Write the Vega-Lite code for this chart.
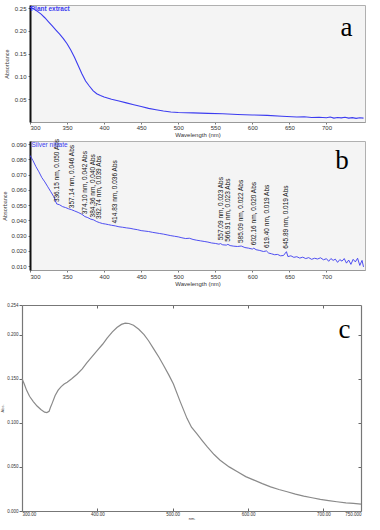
{
  "$schema": "https://vega.github.io/schema/vega-lite/v6.json",
  "background": "white",
  "padding": {"left": 0, "top": 4, "right": 0, "bottom": 0},
  "config": {
    "view": {"stroke": null},
    "font": "Liberation Sans",
    "axis": {"grid": false, "labelFont": "Liberation Sans", "titleFont": "Liberation Sans", "titleFontWeight": "normal", "labelOverlap": false, "labelBound": false, "labelSeparation": 0}
  },
  "datasets": {
    "plant": [
      {"nm": 300, "abs": 0.252}, {"nm": 305, "abs": 0.248}, {"nm": 310, "abs": 0.243}, {"nm": 315, "abs": 0.237},
      {"nm": 320, "abs": 0.229}, {"nm": 325, "abs": 0.220}, {"nm": 330, "abs": 0.211}, {"nm": 335, "abs": 0.202},
      {"nm": 340, "abs": 0.193}, {"nm": 345, "abs": 0.183}, {"nm": 350, "abs": 0.172}, {"nm": 355, "abs": 0.158},
      {"nm": 360, "abs": 0.142}, {"nm": 365, "abs": 0.124}, {"nm": 370, "abs": 0.106}, {"nm": 375, "abs": 0.090},
      {"nm": 380, "abs": 0.079}, {"nm": 385, "abs": 0.069}, {"nm": 390, "abs": 0.062}, {"nm": 395, "abs": 0.058},
      {"nm": 400, "abs": 0.055}, {"nm": 410, "abs": 0.050}, {"nm": 420, "abs": 0.046}, {"nm": 430, "abs": 0.042},
      {"nm": 440, "abs": 0.038}, {"nm": 450, "abs": 0.034}, {"nm": 460, "abs": 0.030}, {"nm": 470, "abs": 0.027},
      {"nm": 480, "abs": 0.024}, {"nm": 490, "abs": 0.022}, {"nm": 500, "abs": 0.021}, {"nm": 520, "abs": 0.020},
      {"nm": 540, "abs": 0.019}, {"nm": 560, "abs": 0.018}, {"nm": 580, "abs": 0.0165}, {"nm": 600, "abs": 0.0155},
      {"nm": 620, "abs": 0.0145}, {"nm": 640, "abs": 0.0125}, {"nm": 660, "abs": 0.0110}, {"nm": 670, "abs": 0.0115},
      {"nm": 680, "abs": 0.0100}, {"nm": 690, "abs": 0.0105}, {"nm": 700, "abs": 0.0095}, {"nm": 705, "abs": 0.0110},
      {"nm": 710, "abs": 0.0085}, {"nm": 715, "abs": 0.0100}, {"nm": 720, "abs": 0.0090}, {"nm": 725, "abs": 0.0105},
      {"nm": 730, "abs": 0.0085}, {"nm": 735, "abs": 0.0095}, {"nm": 740, "abs": 0.0080}, {"nm": 745, "abs": 0.0092},
      {"nm": 750, "abs": 0.0085}
    ],
    "silver": [
      {"nm": 300, "abs": 0.0826}, {"nm": 304, "abs": 0.0792}, {"nm": 308, "abs": 0.0752}, {"nm": 312, "abs": 0.0718},
      {"nm": 316, "abs": 0.0680}, {"nm": 320, "abs": 0.0652}, {"nm": 324, "abs": 0.0620}, {"nm": 328, "abs": 0.0588},
      {"nm": 332, "abs": 0.0556}, {"nm": 336, "abs": 0.0508}, {"nm": 340, "abs": 0.0502}, {"nm": 344, "abs": 0.0490},
      {"nm": 348, "abs": 0.0484}, {"nm": 352, "abs": 0.0476}, {"nm": 356, "abs": 0.0470}, {"nm": 360, "abs": 0.0462},
      {"nm": 365, "abs": 0.0452}, {"nm": 370, "abs": 0.0440}, {"nm": 374, "abs": 0.0425}, {"nm": 378, "abs": 0.0418},
      {"nm": 382, "abs": 0.0408}, {"nm": 386, "abs": 0.0403}, {"nm": 390, "abs": 0.0392}, {"nm": 394, "abs": 0.0385},
      {"nm": 398, "abs": 0.0379}, {"nm": 402, "abs": 0.0376}, {"nm": 406, "abs": 0.0372}, {"nm": 410, "abs": 0.0368},
      {"nm": 415, "abs": 0.0364}, {"nm": 420, "abs": 0.0358}, {"nm": 425, "abs": 0.0355}, {"nm": 430, "abs": 0.0351},
      {"nm": 435, "abs": 0.0348}, {"nm": 440, "abs": 0.0343}, {"nm": 445, "abs": 0.0339}, {"nm": 450, "abs": 0.0333},
      {"nm": 455, "abs": 0.0330}, {"nm": 460, "abs": 0.0327}, {"nm": 465, "abs": 0.0322}, {"nm": 470, "abs": 0.0318},
      {"nm": 475, "abs": 0.0314}, {"nm": 480, "abs": 0.0310}, {"nm": 485, "abs": 0.0305}, {"nm": 490, "abs": 0.0300},
      {"nm": 495, "abs": 0.0296}, {"nm": 500, "abs": 0.0292}, {"nm": 505, "abs": 0.0286}, {"nm": 510, "abs": 0.0281},
      {"nm": 515, "abs": 0.0283}, {"nm": 520, "abs": 0.0275}, {"nm": 525, "abs": 0.0270}, {"nm": 530, "abs": 0.0266},
      {"nm": 535, "abs": 0.0262}, {"nm": 540, "abs": 0.0258}, {"nm": 545, "abs": 0.0252}, {"nm": 550, "abs": 0.0249},
      {"nm": 555, "abs": 0.0244}, {"nm": 557, "abs": 0.0248}, {"nm": 560, "abs": 0.0240}, {"nm": 565, "abs": 0.0238},
      {"nm": 567, "abs": 0.0243}, {"nm": 570, "abs": 0.0235}, {"nm": 575, "abs": 0.0231}, {"nm": 580, "abs": 0.0229},
      {"nm": 585, "abs": 0.0232}, {"nm": 590, "abs": 0.0222}, {"nm": 595, "abs": 0.0218}, {"nm": 600, "abs": 0.0212},
      {"nm": 602, "abs": 0.0218}, {"nm": 605, "abs": 0.0208}, {"nm": 610, "abs": 0.0203}, {"nm": 615, "abs": 0.0196},
      {"nm": 619, "abs": 0.0200}, {"nm": 622, "abs": 0.0186}, {"nm": 626, "abs": 0.0181}, {"nm": 630, "abs": 0.0175},
      {"nm": 634, "abs": 0.0177}, {"nm": 638, "abs": 0.0168}, {"nm": 642, "abs": 0.0170}, {"nm": 646, "abs": 0.0195},
      {"nm": 648, "abs": 0.0163}, {"nm": 652, "abs": 0.0168}, {"nm": 656, "abs": 0.0158}, {"nm": 660, "abs": 0.0162},
      {"nm": 664, "abs": 0.0153}, {"nm": 668, "abs": 0.0159}, {"nm": 672, "abs": 0.0150}, {"nm": 676, "abs": 0.0156},
      {"nm": 680, "abs": 0.0145}, {"nm": 684, "abs": 0.0152}, {"nm": 688, "abs": 0.0147}, {"nm": 692, "abs": 0.0155},
      {"nm": 696, "abs": 0.0142}, {"nm": 700, "abs": 0.0149}, {"nm": 703, "abs": 0.0132}, {"nm": 706, "abs": 0.0150},
      {"nm": 709, "abs": 0.0138}, {"nm": 712, "abs": 0.0146}, {"nm": 715, "abs": 0.0125}, {"nm": 718, "abs": 0.0143},
      {"nm": 721, "abs": 0.0133}, {"nm": 724, "abs": 0.0150}, {"nm": 727, "abs": 0.0120}, {"nm": 730, "abs": 0.0140},
      {"nm": 733, "abs": 0.0112}, {"nm": 736, "abs": 0.0145}, {"nm": 739, "abs": 0.0128}, {"nm": 742, "abs": 0.0152},
      {"nm": 745, "abs": 0.0105}, {"nm": 748, "abs": 0.0138}, {"nm": 750, "abs": 0.0095}
    ],
    "peaks": [
      {"nm": 336.15, "abs": 0.050, "label": "336.15 nm, 0.050 Abs"},
      {"nm": 357.14, "abs": 0.046, "label": "357.14 nm, 0.046 Abs"},
      {"nm": 374.10, "abs": 0.042, "label": "374.10 nm, 0.042 Abs"},
      {"nm": 384.36, "abs": 0.040, "label": "384.36 nm, 0.040 Abs"},
      {"nm": 392.74, "abs": 0.039, "label": "392.74 nm, 0.039 Abs"},
      {"nm": 414.83, "abs": 0.036, "label": "414.83 nm, 0.036 Abs"},
      {"nm": 557.09, "abs": 0.025, "label": "557.09 nm, 0.023 Abs"},
      {"nm": 566.91, "abs": 0.024, "label": "566.91 nm, 0.023 Abs"},
      {"nm": 585.09, "abs": 0.0232, "label": "585.09 nm, 0.022 Abs"},
      {"nm": 602.16, "abs": 0.0218, "label": "602.16 nm, 0.020 Abs"},
      {"nm": 619.40, "abs": 0.020, "label": "619.40 nm, 0.019 Abs"},
      {"nm": 645.89, "abs": 0.0195, "label": "645.89 nm, 0.019 Abs"}
    ],
    "agnp": [
      {"nm": 300, "abs": 0.150}, {"nm": 303, "abs": 0.144}, {"nm": 306, "abs": 0.137}, {"nm": 310, "abs": 0.130},
      {"nm": 315, "abs": 0.124}, {"nm": 320, "abs": 0.119}, {"nm": 325, "abs": 0.115}, {"nm": 330, "abs": 0.112},
      {"nm": 333, "abs": 0.1115}, {"nm": 336, "abs": 0.113}, {"nm": 338, "abs": 0.118}, {"nm": 340, "abs": 0.122},
      {"nm": 344, "abs": 0.131}, {"nm": 348, "abs": 0.137}, {"nm": 352, "abs": 0.141}, {"nm": 356, "abs": 0.144},
      {"nm": 360, "abs": 0.146}, {"nm": 366, "abs": 0.150}, {"nm": 373, "abs": 0.155}, {"nm": 380, "abs": 0.161},
      {"nm": 386, "abs": 0.168}, {"nm": 393, "abs": 0.175}, {"nm": 400, "abs": 0.182}, {"nm": 407, "abs": 0.189},
      {"nm": 413, "abs": 0.196}, {"nm": 420, "abs": 0.203}, {"nm": 426, "abs": 0.208}, {"nm": 432, "abs": 0.2115},
      {"nm": 437, "abs": 0.213}, {"nm": 442, "abs": 0.2125}, {"nm": 448, "abs": 0.2105}, {"nm": 455, "abs": 0.206},
      {"nm": 462, "abs": 0.200}, {"nm": 468, "abs": 0.193}, {"nm": 475, "abs": 0.1835}, {"nm": 482, "abs": 0.174},
      {"nm": 488, "abs": 0.165}, {"nm": 495, "abs": 0.154}, {"nm": 501, "abs": 0.144}, {"nm": 510, "abs": 0.124},
      {"nm": 519, "abs": 0.105}, {"nm": 525, "abs": 0.095}, {"nm": 532, "abs": 0.0877}, {"nm": 540, "abs": 0.079},
      {"nm": 546, "abs": 0.0726}, {"nm": 555, "abs": 0.064}, {"nm": 563, "abs": 0.0576}, {"nm": 575, "abs": 0.050},
      {"nm": 586, "abs": 0.0444}, {"nm": 597, "abs": 0.039}, {"nm": 608, "abs": 0.035}, {"nm": 619, "abs": 0.031},
      {"nm": 630, "abs": 0.0274}, {"nm": 641, "abs": 0.0244}, {"nm": 652, "abs": 0.0218}, {"nm": 663, "abs": 0.0192},
      {"nm": 674, "abs": 0.0169}, {"nm": 685, "abs": 0.015}, {"nm": 696, "abs": 0.0132}, {"nm": 707, "abs": 0.0118},
      {"nm": 718, "abs": 0.0105}, {"nm": 730, "abs": 0.0093}, {"nm": 740, "abs": 0.0086}, {"nm": 750, "abs": 0.0078}
    ]
  },
  "vconcat": [
    {
      "spacing": 0,
      "vconcat": [
        {
          "width": 335,
          "height": 117,
          "view": {"fill": "#f4f4f4", "stroke": "#b0b0b0"},
          "layer": [
            {
              "data": {"name": "plant"},
              "mark": {"type": "line", "color": "#3c3cf0", "strokeWidth": 1.1},
              "encoding": {
                "x": {"field": "nm", "type": "quantitative", "scale": {"domain": [300, 752], "nice": false},
                  "axis": {"values": [300, 350, 400, 450, 500, 550, 600, 650, 700], "labelExpr": "format(datum.value, 'd')", "labelOverlap": false, "labelFontSize": 6, "labelColor": "#333", "tickSize": 2, "tickColor": "#777", "domainColor": "#999", "title": "Wavelength (nm)", "titleFontSize": 6, "titleColor": "#333", "labelPadding": 0, "titlePadding": 1}},
                "y": {"field": "abs", "type": "quantitative", "scale": {"domain": [0, 0.257], "nice": false},
                  "axis": {"values": [0.05, 0.1, 0.15, 0.2, 0.25], "labelExpr": "format(datum.value, '.2f')", "labelOverlap": false, "labelFontSize": 6, "labelColor": "#333", "tickSize": 2, "tickColor": "#777", "domainColor": "#111", "domainWidth": 2, "title": "Absorbance", "titleFontSize": 5.5, "titleColor": "#444", "titlePadding": 5, "labelPadding": 2}}
              }
            },
            {
              "data": {"values": [{}]},
              "mark": {"type": "text", "align": "left", "baseline": "top", "dy": 1, "fontSize": 6.5, "fontWeight": "bold", "color": "#3c3cf0"},
              "encoding": {
                "x": {"datum": 301, "type": "quantitative",
                  "axis": {"values": [300, 350, 400, 450, 500, 550, 600, 650, 700], "labelExpr": "format(datum.value, 'd')", "labelOverlap": false, "labelFontSize": 6, "labelColor": "#333", "tickSize": 2, "tickColor": "#777", "domainColor": "#999", "title": "Wavelength (nm)", "titleFontSize": 6, "titleColor": "#333", "labelPadding": 0, "titlePadding": 1}},
                "y": {"datum": 0.257, "type": "quantitative",
                  "axis": {"values": [0.05, 0.1, 0.15, 0.2, 0.25], "labelExpr": "format(datum.value, '.2f')", "labelOverlap": false, "labelFontSize": 6, "labelColor": "#333", "tickSize": 2, "tickColor": "#777", "domainColor": "#111", "domainWidth": 2, "title": "Absorbance", "titleFontSize": 5.5, "titleColor": "#444", "titlePadding": 5, "labelPadding": 2}},
                "text": {"value": "Plant extract"}
              }
            },
            {
              "data": {"values": [{}]},
              "mark": {"type": "text", "align": "center", "baseline": "alphabetic", "fontSize": 27, "font": "Liberation Serif", "color": "#000"},
              "encoding": {
                "x": {"datum": 727, "type": "quantitative",
                  "axis": {"values": [300, 350, 400, 450, 500, 550, 600, 650, 700], "labelExpr": "format(datum.value, 'd')", "labelOverlap": false, "labelFontSize": 6, "labelColor": "#333", "tickSize": 2, "tickColor": "#777", "domainColor": "#999", "title": "Wavelength (nm)", "titleFontSize": 6, "titleColor": "#333", "labelPadding": 0, "titlePadding": 1}},
                "y": {"datum": 0.189, "type": "quantitative",
                  "axis": {"values": [0.05, 0.1, 0.15, 0.2, 0.25], "labelExpr": "format(datum.value, '.2f')", "labelOverlap": false, "labelFontSize": 6, "labelColor": "#333", "tickSize": 2, "tickColor": "#777", "domainColor": "#111", "domainWidth": 2, "title": "Absorbance", "titleFontSize": 5.5, "titleColor": "#444", "titlePadding": 5, "labelPadding": 2}},
                "text": {"value": "a"}
              }
            }
          ]
        },
        {
          "width": 335,
          "height": 129,
          "view": {"fill": "#f4f4f4", "stroke": "#b0b0b0"},
          "layer": [
            {
              "data": {"name": "silver"},
              "mark": {"type": "line", "color": "#3c3cf0", "strokeWidth": 0.9},
              "encoding": {
                "x": {"field": "nm", "type": "quantitative", "scale": {"domain": [300, 752], "nice": false},
                  "axis": {"values": [300, 350, 400, 450, 500, 550, 600, 650, 700], "labelExpr": "format(datum.value, 'd')", "labelOverlap": false, "labelFontSize": 6, "labelColor": "#333", "tickSize": 2, "tickColor": "#777", "domainColor": "#999", "title": "Wavelength (nm)", "titleFontSize": 6, "titleColor": "#333", "labelPadding": 1, "titlePadding": 1}},
                "y": {"field": "abs", "type": "quantitative", "scale": {"domain": [0.0075, 0.092], "nice": false},
                  "axis": {"values": [0.01, 0.02, 0.03, 0.04, 0.05, 0.06, 0.07, 0.08, 0.09], "labelExpr": "format(datum.value, '.3f')", "labelOverlap": false, "labelFontSize": 6, "labelColor": "#333", "tickSize": 2, "tickColor": "#777", "domainColor": "#111", "domainWidth": 2, "title": "Absorbance", "titleFontSize": 5.5, "titleColor": "#444", "titlePadding": 3, "labelPadding": 2}}
              }
            },
            {
              "data": {"name": "peaks"},
              "mark": {"type": "text", "angle": 270, "align": "left", "baseline": "middle", "dx": 3, "fontSize": 6.5, "color": "#111"},
              "encoding": {
                "x": {"field": "nm", "type": "quantitative",
                  "axis": {"values": [300, 350, 400, 450, 500, 550, 600, 650, 700], "labelExpr": "format(datum.value, 'd')", "labelOverlap": false, "labelFontSize": 6, "labelColor": "#333", "tickSize": 2, "tickColor": "#777", "domainColor": "#999", "title": "Wavelength (nm)", "titleFontSize": 6, "titleColor": "#333", "labelPadding": 1, "titlePadding": 1}},
                "y": {"field": "abs", "type": "quantitative",
                  "axis": {"values": [0.01, 0.02, 0.03, 0.04, 0.05, 0.06, 0.07, 0.08, 0.09], "labelExpr": "format(datum.value, '.3f')", "labelOverlap": false, "labelFontSize": 6, "labelColor": "#333", "tickSize": 2, "tickColor": "#777", "domainColor": "#111", "domainWidth": 2, "title": "Absorbance", "titleFontSize": 5.5, "titleColor": "#444", "titlePadding": 3, "labelPadding": 2}},
                "text": {"field": "label"}
              }
            },
            {
              "data": {"values": [{}]},
              "mark": {"type": "text", "align": "left", "baseline": "top", "dy": 1, "fontSize": 6.5, "color": "#3c3cf0"},
              "encoding": {
                "x": {"datum": 302, "type": "quantitative",
                  "axis": {"values": [300, 350, 400, 450, 500, 550, 600, 650, 700], "labelExpr": "format(datum.value, 'd')", "labelOverlap": false, "labelFontSize": 6, "labelColor": "#333", "tickSize": 2, "tickColor": "#777", "domainColor": "#999", "title": "Wavelength (nm)", "titleFontSize": 6, "titleColor": "#333", "labelPadding": 1, "titlePadding": 1}},
                "y": {"datum": 0.092, "type": "quantitative",
                  "axis": {"values": [0.01, 0.02, 0.03, 0.04, 0.05, 0.06, 0.07, 0.08, 0.09], "labelExpr": "format(datum.value, '.3f')", "labelOverlap": false, "labelFontSize": 6, "labelColor": "#333", "tickSize": 2, "tickColor": "#777", "domainColor": "#111", "domainWidth": 2, "title": "Absorbance", "titleFontSize": 5.5, "titleColor": "#444", "titlePadding": 3, "labelPadding": 2}},
                "text": {"value": "Silver nitrate"}
              }
            },
            {
              "data": {"values": [{}]},
              "mark": {"type": "text", "align": "center", "baseline": "alphabetic", "fontSize": 27, "font": "Liberation Serif", "color": "#000"},
              "encoding": {
                "x": {"datum": 721, "type": "quantitative",
                  "axis": {"values": [300, 350, 400, 450, 500, 550, 600, 650, 700], "labelExpr": "format(datum.value, 'd')", "labelOverlap": false, "labelFontSize": 6, "labelColor": "#333", "tickSize": 2, "tickColor": "#777", "domainColor": "#999", "title": "Wavelength (nm)", "titleFontSize": 6, "titleColor": "#333", "labelPadding": 1, "titlePadding": 1}},
                "y": {"datum": 0.0737, "type": "quantitative",
                  "axis": {"values": [0.01, 0.02, 0.03, 0.04, 0.05, 0.06, 0.07, 0.08, 0.09], "labelExpr": "format(datum.value, '.3f')", "labelOverlap": false, "labelFontSize": 6, "labelColor": "#333", "tickSize": 2, "tickColor": "#777", "domainColor": "#111", "domainWidth": 2, "title": "Absorbance", "titleFontSize": 5.5, "titleColor": "#444", "titlePadding": 3, "labelPadding": 2}},
                "text": {"value": "b"}
              }
            }
          ]
        }
      ]
    },
    {
      "width": 331,
      "height": 206,
      "resolve": {"axis": {"x": "independent", "y": "independent"}},
      "layer": [
        {
          "data": {"name": "agnp"},
          "mark": {"type": "line", "color": "#8a8a8a", "strokeWidth": 1.2},
          "encoding": {
            "x": {"field": "nm", "type": "quantitative", "scale": {"domain": [300, 750], "nice": false, "range": [-8, 331]},
              "axis": {"values": [300, 400, 500, 600, 700, 750], "labelExpr": "datum.value == 750 ? '750.000' : format(datum.value, '.2f')", "labelOverlap": false, "labelFontSize": 4.5, "labelColor": "#333", "tickSize": -3, "tickColor": "#666", "domainColor": "#777", "domainWidth": 1.2, "title": "nm.", "titleFontSize": 4, "titleColor": "#333", "labelPadding": 3, "titlePadding": 1}},
            "y": {"field": "abs", "type": "quantitative", "scale": {"domain": [0, 0.2335], "nice": false},
              "axis": {"offset": 8, "values": [0, 0.05, 0.1, 0.15, 0.2, 0.2335], "labelExpr": "datum.value > 0.23 ? '0.254' : format(datum.value, '.3f')", "labelOverlap": false, "labelFontSize": 4.5, "labelColor": "#333", "tickSize": 3, "tickColor": "#666", "domainColor": "#777", "domainWidth": 1.2, "title": "Abs.", "titleFontSize": 4, "titleColor": "#555", "labelPadding": 1, "titlePadding": 2}}
          }
        },
        {
          "data": {"name": "agnp"},
          "mark": {"type": "line", "opacity": 0},
          "encoding": {
            "x": {"field": "nm", "type": "quantitative", "axis": {"orient": "top", "values": [400, 500, 600, 700], "labels": false, "domain": true, "domainColor": "#777", "domainWidth": 1.2, "tickSize": -3, "tickColor": "#666", "title": null}},
            "y": {"field": "abs", "type": "quantitative", "axis": {"orient": "right", "values": [0.05, 0.1, 0.15, 0.2], "labels": false, "domain": true, "domainColor": "#777", "domainWidth": 1.2, "tickSize": -3, "tickColor": "#666", "title": null}}
          }
        },
        {
          "data": {"values": [{}]},
          "mark": {"type": "text", "align": "center", "baseline": "alphabetic", "fontSize": 27, "font": "Liberation Serif", "color": "#000"},
          "encoding": {"x": {"datum": 728, "type": "quantitative", "axis": null}, "y": {"datum": 0.1958, "type": "quantitative", "axis": null}, "text": {"value": "c"}}
        }
      ]
    }
  ],
  "spacing": 15
}
